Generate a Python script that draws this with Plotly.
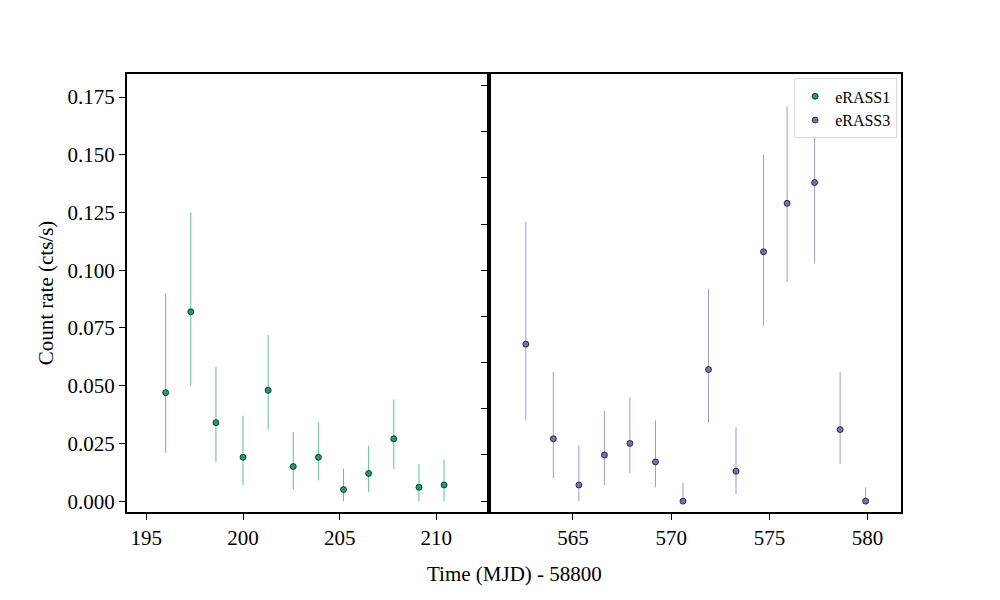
import plotly.graph_objects as go
from plotly.subplots import make_subplots

# eRASS1
t1 = [196.0, 197.3, 198.6, 200.0, 201.3, 202.6, 203.9, 205.2, 206.5, 207.8, 209.1, 210.4]
r1 = [0.047, 0.082, 0.034, 0.019, 0.048, 0.015, 0.019, 0.005, 0.012, 0.027, 0.006, 0.007]
lo1 = [0.021, 0.050, 0.017, 0.007, 0.031, 0.005, 0.009, 0.000, 0.004, 0.014, 0.000, 0.000]
hi1 = [0.090, 0.125, 0.058, 0.037, 0.072, 0.030, 0.034, 0.014, 0.024, 0.044, 0.016, 0.018]

# eRASS3
t3 = [562.6, 564.0, 565.3, 566.6, 567.9, 569.2, 570.6, 571.9, 573.3, 574.7, 575.9, 577.3, 578.6, 579.9]
r3 = [0.068, 0.027, 0.007, 0.020, 0.025, 0.017, 0.000, 0.057, 0.013, 0.108, 0.129, 0.138, 0.031, 0.000]
lo3 = [0.035, 0.010, 0.000, 0.007, 0.012, 0.006, 0.000, 0.034, 0.003, 0.076, 0.095, 0.103, 0.016, 0.000]
hi3 = [0.121, 0.056, 0.024, 0.039, 0.045, 0.035, 0.008, 0.092, 0.032, 0.150, 0.171, 0.180, 0.056, 0.006]

fig = make_subplots(rows=1, cols=2, shared_yaxes=True, horizontal_spacing=0,
                    column_widths=[362, 413])

def add(t, r, lo, hi, color, name, col):
    fig.add_trace(go.Scatter(
        x=t, y=r, mode="markers", name=name,
        marker=dict(color=color, size=6, line=dict(color="black", width=0.7)),
        error_y=dict(type="data", symmetric=False,
                     array=[h - v for h, v in zip(hi, r)],
                     arrayminus=[v - l for v, l in zip(r, lo)],
                     color=color, thickness=0.7, width=0),
    ), row=1, col=col)

add(t1, r1, lo1, hi1, "#1b9e77", "eRASS1", 1)
add(t3, r3, lo3, hi3, "#7570b3", "eRASS3", 2)

font = dict(family="Liberation Serif", size=21, color="black")
axis_common = dict(showline=True, linecolor="black", linewidth=2, mirror=True,
                   ticks="outside", ticklen=6, tickwidth=1, tickcolor="black",
                   showgrid=False, zeroline=False, tickfont=font)

fig.update_xaxes(**axis_common)
fig.update_yaxes(**axis_common)
fig.update_xaxes(range=[194.0, 212.7], tickvals=[195, 200, 205, 210], row=1, col=1)
fig.update_xaxes(range=[560.7, 581.7], tickvals=[565, 570, 575, 580], row=1, col=2)
fig.update_yaxes(range=[-0.0047, 0.185], dtick=0.025, tickformat=".3f", row=1, col=1,
                 title=dict(text="Count rate (cts/s)", font=font, standoff=8))
fig.update_yaxes(showticklabels=False, row=1, col=2)

fig.add_annotation(text="Time (MJD) - 58800", xref="paper", yref="paper",
                   x=0.5, y=-0.11, yanchor="top", showarrow=False, font=font)

fig.update_layout(
    width=1000, height=600, plot_bgcolor="white", paper_bgcolor="white",
    margin=dict(l=119, r=107, t=66, b=96),
    font=font,
    legend=dict(x=0.995, y=0.99, xanchor="right", yanchor="top",
                bgcolor="white", bordercolor="#dddddd", borderwidth=1,
                font=dict(family="Liberation Serif", size=16)),
)

fig.write_html("out.html")
